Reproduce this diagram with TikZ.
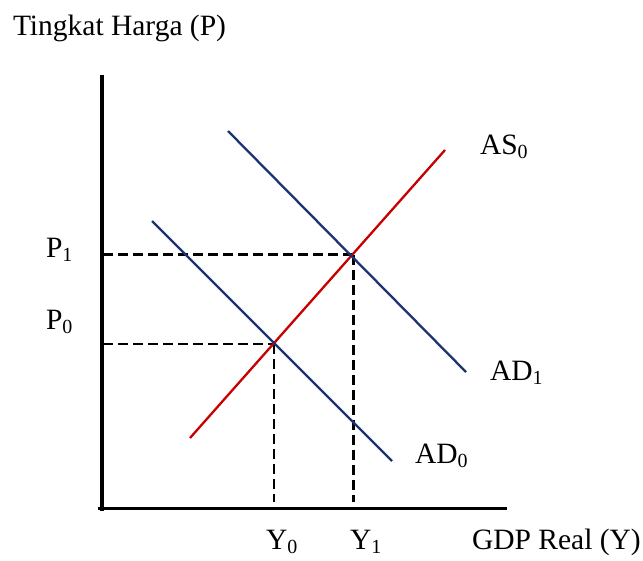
\documentclass[tikz,border=0pt]{standalone}
\usepackage{fontspec}
\setmainfont{Liberation Serif}
\definecolor{adblue}{RGB}{28,52,112}
\definecolor{asred}{RGB}{200,0,0}
\newcommand\subidx[1]{\raisebox{-4.5pt}{\fontsize{20}{20}\selectfont #1}}
\begin{document}
\begin{tikzpicture}[x=1pt,y=-1pt,
  lbl/.style={anchor=base west,inner sep=0pt,outer sep=0pt,font=\fontsize{29.5}{31}\selectfont},
  axisline/.style={line width=3.8pt,black},
  xaxisline/.style={line width=2.5pt,black},
  adline/.style={line width=2.3pt,adblue},
  asline/.style={line width=2.3pt,asred},
  guide/.style={line width=2.5pt,black,dash pattern=on 10pt off 5pt}]
\useasboundingbox (0,0) rectangle (643,560);
% axis coordinates
\coordinate (ytop) at (101.7,75);
\coordinate (ybot) at (101.7,510.5);
\coordinate (xl) at (98,508.7);
\coordinate (xr) at (507,508.7);
% equilibrium points
\coordinate (E0) at (274,344);
\coordinate (E1) at (353.5,254.5);
\coordinate (P0a) at (103,344);
\coordinate (P1a) at (103,254.5);
\coordinate (Y0a) at (274,502);
\coordinate (Y1a) at (353.5,502);
% curve ends
\coordinate (ASs) at (190,438);
\coordinate (ASe) at (445,150);
\coordinate (AD0s) at (152,221);
\coordinate (AD0e) at (392,461);
\coordinate (AD1s) at (228,131);
\coordinate (AD1e) at (466,372);
% axes
\draw[axisline] (ytop) -- (ybot);
\draw[xaxisline] (xl) -- (xr);
% guides
\draw[guide] (P1a) -- (E1);
\draw[guide] (P0a) -- (E0);
\draw[guide] (E1) -- (Y1a);
\draw[guide] (E0) -- (Y0a);
% curves
\draw[asline] (ASs) -- (ASe);
\draw[adline] (AD0s) -- (AD0e);
\draw[adline] (AD1s) -- (AD1e);
% labels
\node[lbl] (title) at (13,35) {Tingkat Harga (P)};
\node[lbl] (p1) at (46,257) {P\subidx{1}};
\node[lbl] (p0) at (46,329) {P\subidx{0}};
\node[lbl] (as0) at (480,154) {AS\subidx{0}};
\node[lbl] (ad1) at (490,380) {AD\subidx{1}};
\node[lbl] (ad0) at (415,463) {AD\subidx{0}};
\node[lbl] (y0) at (266,549) {Y\subidx{0}};
\node[lbl] (y1) at (350,549) {Y\subidx{1}};
\node[lbl] (gdp) at (472,549) {GDP Real (Y)};
\end{tikzpicture}
\end{document}
